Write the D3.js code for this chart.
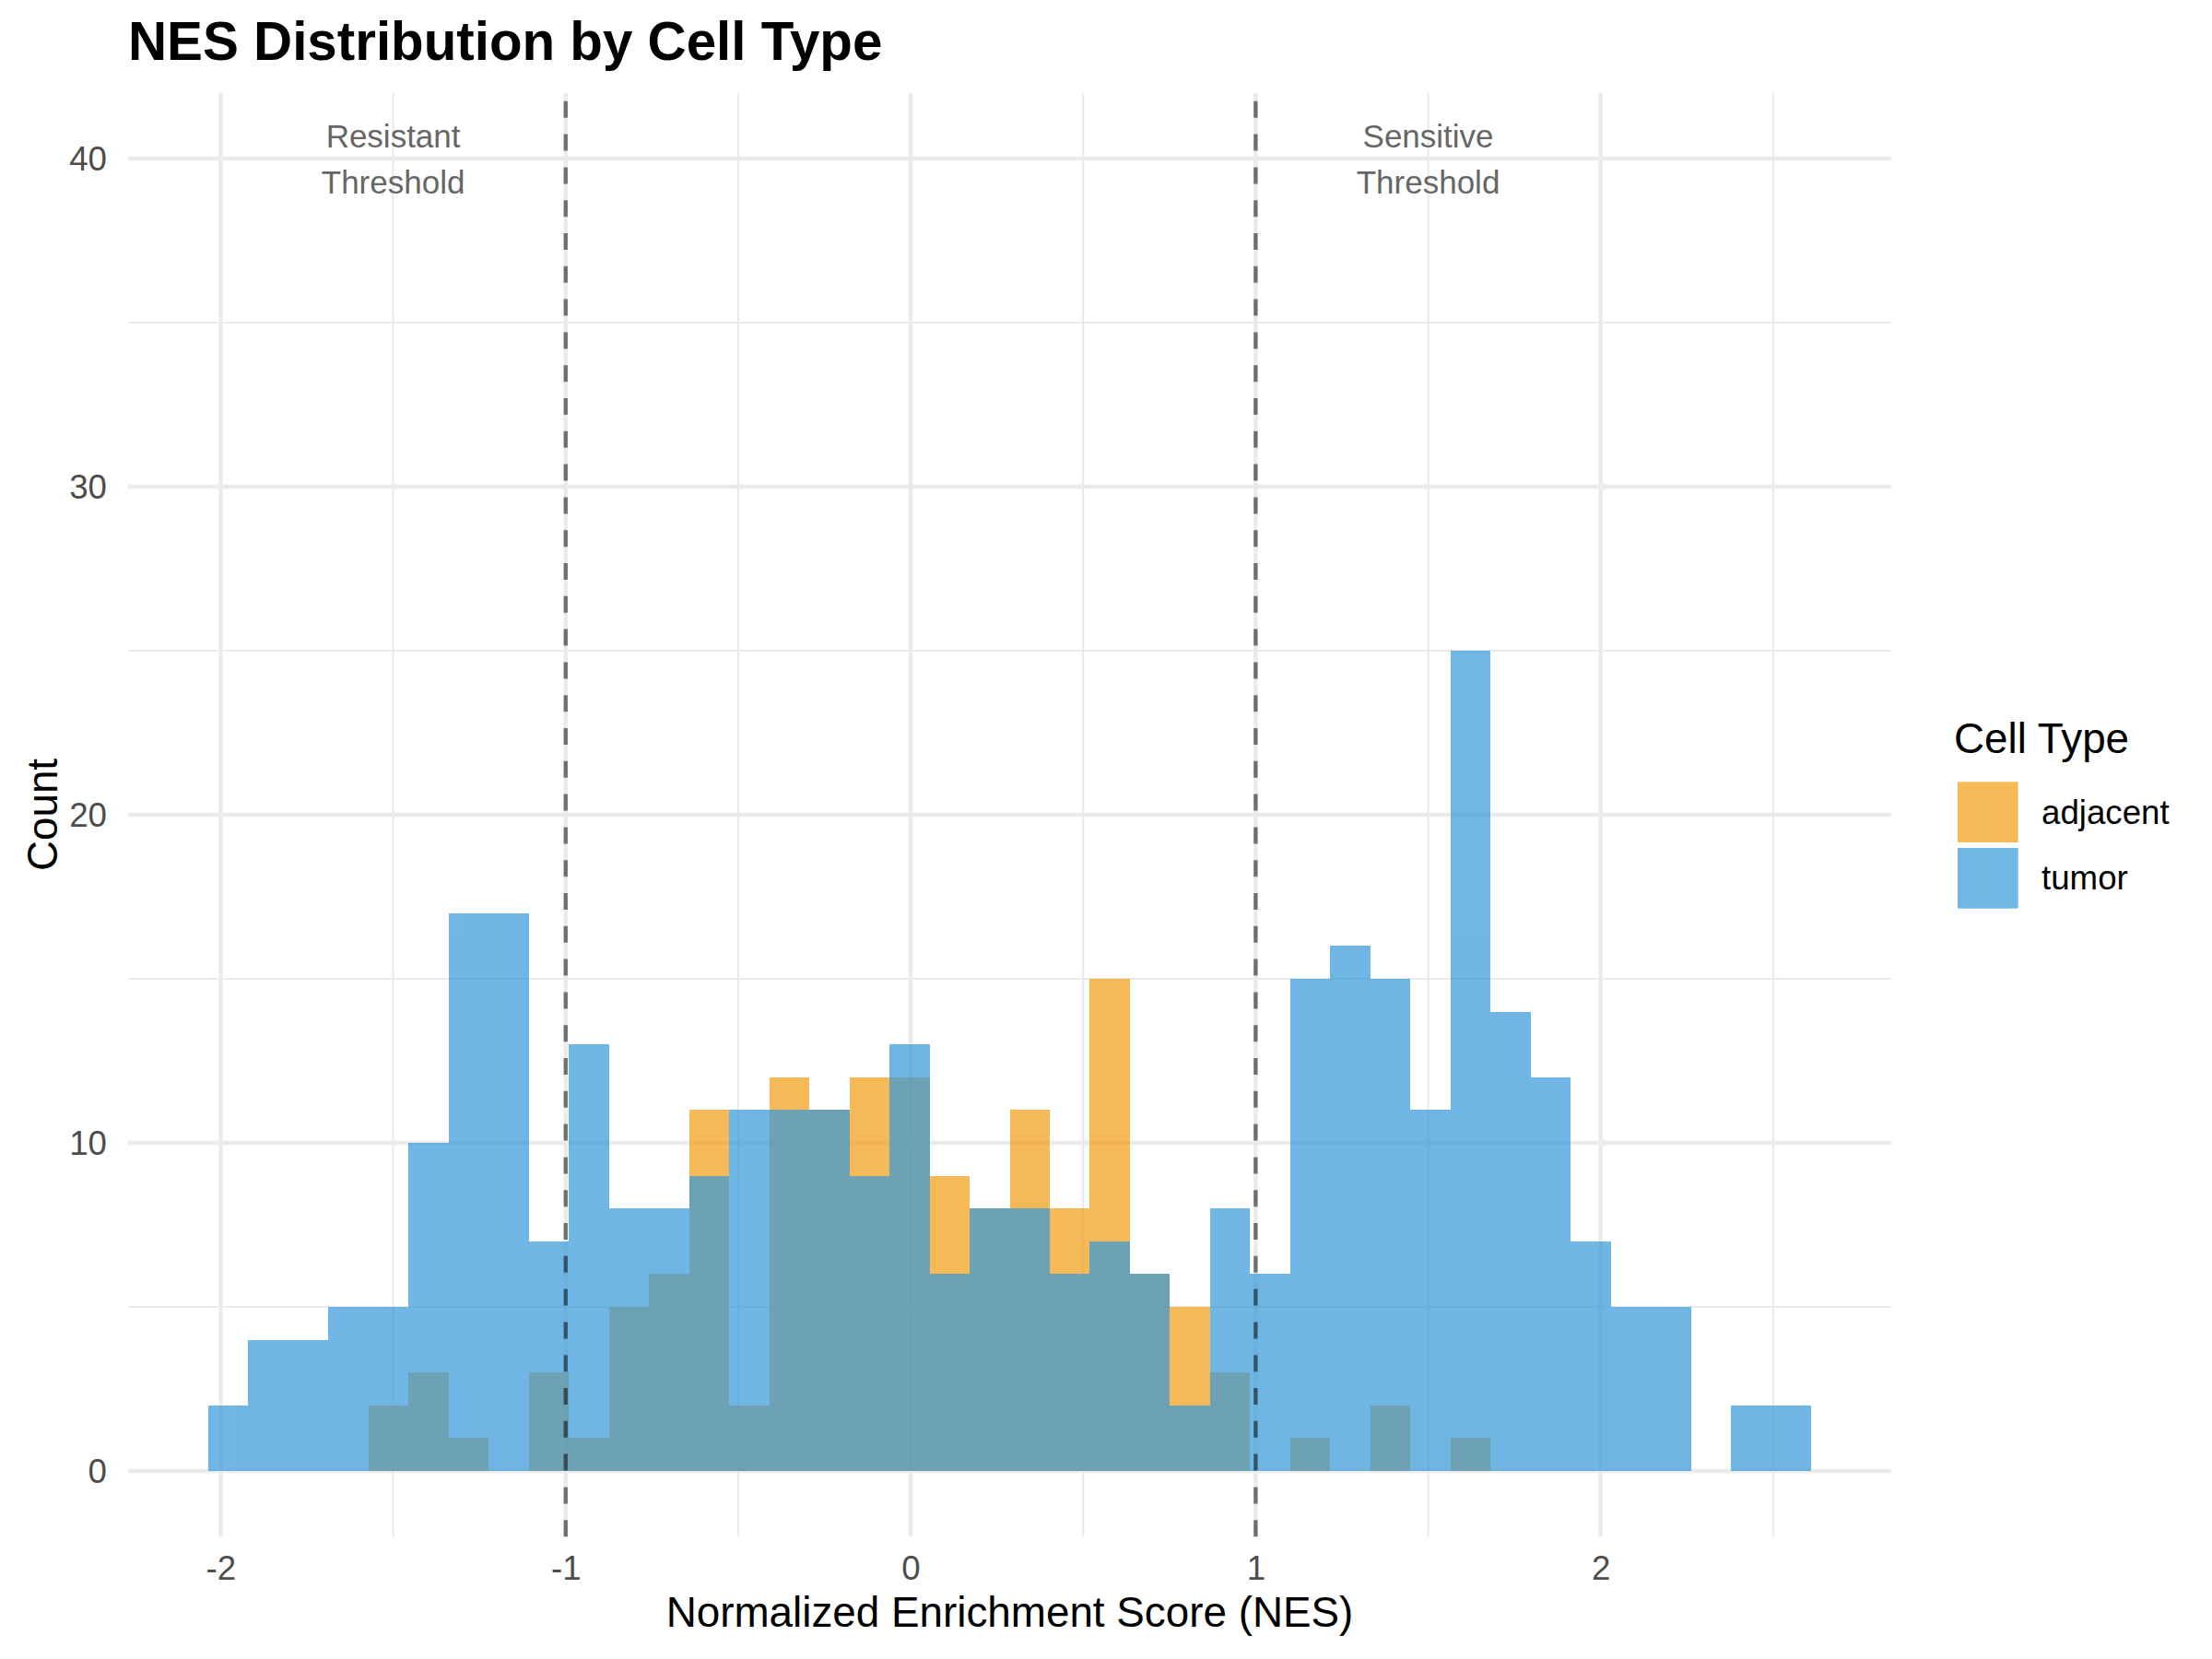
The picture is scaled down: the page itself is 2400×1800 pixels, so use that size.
<!DOCTYPE html>
<html>
<head>
<meta charset="utf-8">
<script src="https://cdn.jsdelivr.net/npm/d3@7"></script>
<style>
  html, body { margin: 0; padding: 0; background: #ffffff; }
  svg { display: block; }
  text { font-family: "Liberation Sans", Arial, Helvetica, sans-serif; }
</style>
</head>
<body>
<script>
// ---------------- data ----------------
const binStart = -2.036;   // left edge of first histogram bin (NES)
const binWidth = 0.11615;  // histogram bin width (NES)
const seriesNames = ["adjacent", "tumor"];
const adjacentCounts = [0,0,0,0,2,3,1,0,3,1,5,6,11,2,12,11,12,12,9,8,11,8,15,6,5,3,0,1,0,2,0,1,0,0,0,0,0,0,0,0];
const tumorCounts    = [2,4,4,5,5,10,17,17,7,13,8,8,9,11,11,11,9,13,6,8,8,6,7,6,2,8,6,15,16,15,11,25,14,12,7,5,5,0,2,2];
const thresholds = [-1, 1];
const annotations = [
  { x: -1.5, y: 40, lines: ["Resistant", "Threshold"] },
  { x: 1.5,  y: 40, lines: ["Sensitive", "Threshold"] }
];
const xTicks = [-2, -1, 0, 1, 2];
const xMinor = [-1.5, -0.5, 0.5, 1.5, 2.5];
const yTicks = [0, 10, 20, 30, 40];
const yMinor = [5, 15, 25, 35];
const colors = { adjacent: "#F39C12", tumor: "#3498DB" };

// ---------------- layout ----------------
const W = 2400, H = 1800;
const panel = { left: 139, right: 2052, top: 100.8, bottom: 1667.2 };

const svg = d3.select("body").append("svg")
  .attr("width", W).attr("height", H)
  .attr("viewBox", `0 0 ${W} ${H}`);
svg.append("rect").attr("width", W).attr("height", H).attr("fill", "#ffffff");

const nBins = tumorCounts.length;
const dataMin = binStart, dataMax = binStart + nBins * binWidth;
const padX = (dataMax - dataMin) * 0.05;
const x = d3.scaleLinear().domain([dataMin - padX, dataMax + padX]).range([panel.left, panel.right]);
const y = d3.scaleLinear().domain([-2, 42]).range([panel.bottom, panel.top]);

// ---------------- grid ----------------
const grid = svg.append("g");
grid.selectAll("line.ymin").data(yMinor).join("line")
  .attr("x1", panel.left).attr("x2", panel.right)
  .attr("y1", d => y(d)).attr("y2", d => y(d))
  .attr("stroke", "#EBEBEB").attr("stroke-width", 2.2);
grid.selectAll("line.xmin").data(xMinor).join("line")
  .attr("y1", panel.top).attr("y2", panel.bottom)
  .attr("x1", d => x(d)).attr("x2", d => x(d))
  .attr("stroke", "#EBEBEB").attr("stroke-width", 2.2);
grid.selectAll("line.ymaj").data(yTicks).join("line")
  .attr("x1", panel.left).attr("x2", panel.right)
  .attr("y1", d => y(d)).attr("y2", d => y(d))
  .attr("stroke", "#EBEBEB").attr("stroke-width", 4.4);
grid.selectAll("line.xmaj").data(xTicks).join("line")
  .attr("y1", panel.top).attr("y2", panel.bottom)
  .attr("x1", d => x(d)).attr("x2", d => x(d))
  .attr("stroke", "#EBEBEB").attr("stroke-width", 4.4);

// ---------------- bars ----------------
function drawSeries(name, counts) {
  const g = svg.append("g").attr("opacity", 0.7);
  const bins = counts.map((c, i) => ({ x0: binStart + i * binWidth, x1: binStart + (i + 1) * binWidth, c }))
    .filter(d => d.c > 0);
  g.selectAll("rect").data(bins).join("rect")
    .attr("x", d => x(d.x0))
    .attr("width", d => x(d.x1) - x(d.x0))
    .attr("y", d => y(d.c))
    .attr("height", d => y(0) - y(d.c))
    .attr("fill", colors[name])
    .attr("shape-rendering", "crispEdges");
}
drawSeries("adjacent", adjacentCounts);
drawSeries("tumor", tumorCounts);

// ---------------- threshold lines ----------------
svg.append("g").selectAll("line").data(thresholds).join("line")
  .attr("x1", d => x(d)).attr("x2", d => x(d))
  .attr("y1", panel.bottom).attr("y2", panel.top)
  .attr("stroke", "#000000").attr("stroke-opacity", 0.53)
  .attr("stroke-width", 4.3)
  .attr("stroke-dasharray", "18,17.8");

// ---------------- annotations ----------------
const ann = svg.append("g");
annotations.forEach(a => {
  const t = ann.append("text")
    .attr("x", x(a.x)).attr("y", y(a.y))
    .attr("text-anchor", "middle")
    .attr("font-size", 35)
    .attr("fill", "#666666");
  t.append("tspan").attr("x", x(a.x)).attr("dy", -12).text(a.lines[0]);
  t.append("tspan").attr("x", x(a.x)).attr("dy", 50).text(a.lines[1]);
});

// ---------------- axes ----------------
const fmt = d => String(d);
const xAxis = svg.append("g").attr("transform", `translate(0,${panel.bottom})`)
  .call(d3.axisBottom(x).tickValues(xTicks).tickSize(0).tickPadding(0).tickFormat(fmt));
xAxis.select(".domain").remove();
xAxis.selectAll("text").attr("y", 47).attr("dy", null)
  .attr("font-size", 36.7).attr("fill", "#4D4D4D")
  .attr("font-family", "Liberation Sans, Arial, sans-serif");

const yAxis = svg.append("g").attr("transform", `translate(116,0)`)
  .call(d3.axisLeft(y).tickValues(yTicks).tickSize(0).tickPadding(0).tickFormat(fmt));
yAxis.select(".domain").remove();
yAxis.selectAll("text").attr("x", 0).attr("dy", "0.35em")
  .attr("font-size", 36.7).attr("fill", "#4D4D4D")
  .attr("font-family", "Liberation Sans, Arial, sans-serif");

// axis titles
svg.append("text")
  .attr("x", (panel.left + panel.right) / 2).attr("y", 1765)
  .attr("text-anchor", "middle").attr("font-size", 45.8).attr("fill", "#000")
  .text("Normalized Enrichment Score (NES)");
svg.append("text")
  .attr("transform", `translate(62,${(panel.top + panel.bottom) / 2}) rotate(-90)`)
  .attr("text-anchor", "middle").attr("font-size", 45.8).attr("fill", "#000")
  .text("Count");

// title
svg.append("text")
  .attr("x", 139).attr("y", 65)
  .attr("font-size", 58.3).attr("font-weight", "bold").attr("fill", "#000")
  .text("NES Distribution by Cell Type");

// ---------------- legend ----------------
const legend = svg.append("g");
legend.append("text").attr("x", 2120).attr("y", 816.7)
  .attr("font-size", 45.8).attr("fill", "#000").text("Cell Type");
const keySize = 65.7;
seriesNames.forEach((name, i) => {
  const ky = 848.3 + i * 71.7;
  legend.append("rect").attr("x", 2124).attr("y", ky)
    .attr("width", keySize).attr("height", keySize)
    .attr("fill", colors[name]).attr("fill-opacity", 0.7);
  legend.append("text").attr("x", 2215).attr("y", ky + keySize / 2 + 12.5)
    .attr("font-size", 36.7).attr("fill", "#000").text(name);
});
</script>
</body>
</html>
